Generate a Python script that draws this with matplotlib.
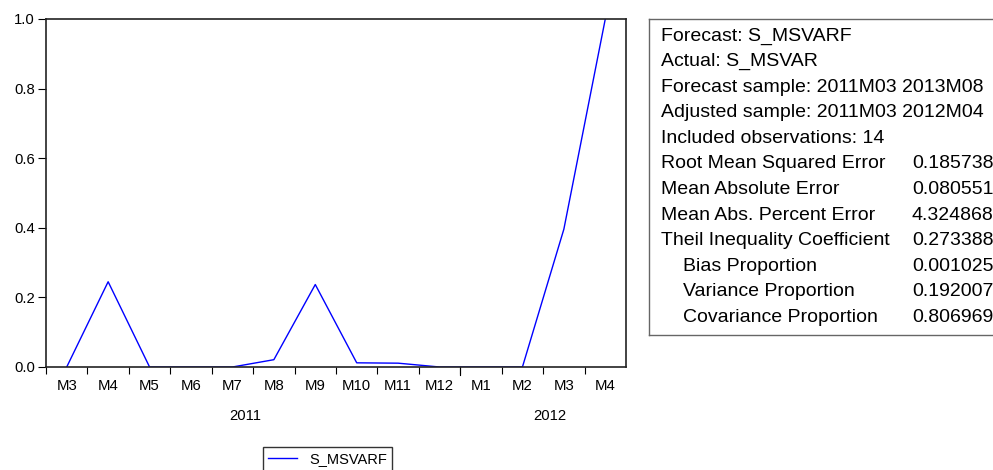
import numpy as np
import matplotlib
matplotlib.use('Agg')
import matplotlib.pyplot as plt

plt.rcParams['font.family'] = ['Liberation Sans', 'DejaVu Sans']

# data
months = ['M3', 'M4', 'M5', 'M6', 'M7', 'M8', 'M9', 'M10', 'M11', 'M12', 'M1', 'M2', 'M3', 'M4']
s_msvarf = [0.0, 0.245, 0.0, 0.0, 0.0, 0.021, 0.237, 0.012, 0.011, 0.0, 0.0, 0.0, 0.396, 1.0]
years = ['2011', '2012']
year_pos = [4.3, 11.65]

header = ['Forecast: S_MSVARF', 'Actual: S_MSVAR', 'Forecast sample: 2011M03 2013M08',
          'Adjusted sample: 2011M03 2012M04', 'Included observations: 14']
stat_names = ['Root Mean Squared Error', 'Mean Absolute Error', 'Mean Abs. Percent Error',
              'Theil Inequality Coefficient', 'Bias Proportion', 'Variance Proportion',
              'Covariance Proportion']
stat_indent = [0, 0, 0, 0, 1, 1, 1]
stat_values = ['0.185738', '0.080551', '4.324868', '0.273388', '0.001025', '0.192007', '0.806969']

W, H = 993, 470
fig = plt.figure(figsize=(W/100, H/100), dpi=100)
ax = fig.add_axes([46/W, 1-367/H, (626-46)/W, (367-19)/H])

x = np.arange(len(months))
ax.plot(x, s_msvarf, color='#0000ff', lw=1.0, label='S_MSVARF')
ax.set_xlim(-0.5, len(months)-0.5)
ax.set_ylim(0, 1.0)
ax.set_yticks([0, 0.2, 0.4, 0.6, 0.8, 1.0])
ax.set_yticklabels(['0.0', '0.2', '0.4', '0.6', '0.8', '1.0'])
ax.tick_params(axis='y', direction='out', length=6, width=0.8, labelsize=10.7, pad=2)

# boundaries as major ticks, month names at the centres
bounds = np.arange(len(months)+1) - 0.5
ax.set_xticks(bounds[:-1])
ax.set_xticklabels([])
ax.tick_params(axis='x', which='major', direction='out', length=5, width=0.8)
ax.set_xticks(x, minor=True)
ax.set_xticklabels(months, minor=True)
ax.tick_params(axis='x', which='minor', length=0, labelsize=10.7, pad=9)
# longer tick at the year change
ax.plot([9.5, 9.5], [0, -0.024], color='black', lw=0.8, clip_on=False)
for yr, p in zip(years, year_pos):
    ax.text(p, -0.14, yr, ha='center', va='center', fontsize=10.7)
for sp in ax.spines.values():
    sp.set_color('#222222')
    sp.set_linewidth(1.2)

fig.legend(loc='upper left', bbox_to_anchor=(263/W, 1-447/H), fancybox=False,
           edgecolor='#333333', framealpha=1, borderaxespad=0, fontsize=10.5,
           handlelength=2.0, handletextpad=0.8, borderpad=0.35)

# statistics box
y0, dy = 36, 25.6
n_lines = len(header) + len(stat_names)
box_bottom = y0 + (n_lines-1)*dy + 17
bx = fig.add_axes([649/W, 1-box_bottom/H, (1010-649)/W, (box_bottom-19)/H])
bx.set_xticks([])
bx.set_yticks([])
for sp in bx.spines.values():
    sp.set_color('#666666')
    sp.set_linewidth(1.0)

for i, t in enumerate(header):
    fig.text(661/W, 1-(y0 + i*dy)/H, t, ha='left', va='center', fontsize=14)
for i, (t, ind, v) in enumerate(zip(stat_names, stat_indent, stat_values)):
    yy = 1-(y0 + (i+len(header))*dy)/H
    fig.text((661 + 22*ind)/W, yy, t, ha='left', va='center', fontsize=14)
    fig.text(912/W, yy, v, ha='left', va='center', fontsize=14)

fig.savefig('out.png', dpi=100)
